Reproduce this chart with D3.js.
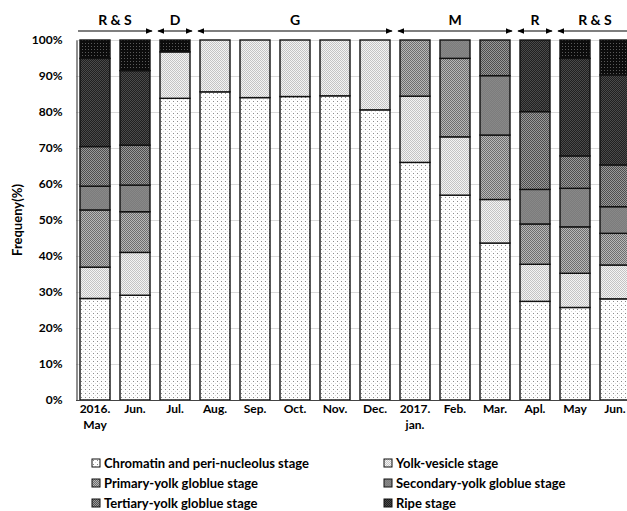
<!DOCTYPE html>
<html>
<head>
<meta charset="utf-8">
<script src="https://cdn.jsdelivr.net/npm/d3@7"></script>
<style>
  body { margin: 0; background: #fff; }
  text { font-family: Lato, "Open Sans", sans-serif; font-weight: bold; fill: #000; }
</style>
</head>
<body>
<div id="chart" style="width:627px;height:511px;"></div>
<script>
// months along the x axis ("|" splits the two-line labels)
var months = ["2016.|May", "Jun.", "Jul.", "Aug.", "Sep.", "Oct.", "Nov.", "Dec.", "2017.|jan.", "Feb.", "Mar.", "Apl.", "May", "Jun."];

// stage shares (%) for each month, bottom to top
var chromatin = [28.2, 29.1, 83.8, 85.6, 84.0, 84.3, 84.5, 80.6, 66.0, 56.9, 43.6, 27.4, 25.7, 28.1];
var yolkVesicle = [8.7, 11.9, 12.9, 14.4, 16.0, 15.7, 15.5, 19.4, 18.4, 16.2, 12.1, 10.3, 9.5, 9.4];
var primary = [15.9, 11.3, 0, 0, 0, 0, 0, 0, 15.6, 21.8, 17.9, 11.2, 12.9, 8.8];
var secondary = [6.6, 7.4, 0, 0, 0, 0, 0, 0, 0, 5.1, 16.5, 9.6, 10.7, 7.4];
var tertiary = [11.0, 11.1, 0, 0, 0, 0, 0, 0, 0, 0, 9.9, 21.6, 9.0, 11.6];
var ripe = [24.5, 20.7, 0, 0, 0, 0, 0, 0, 0, 0, 0, 19.9, 27.1, 25.0];
var spent = [5.1, 8.5, 3.3, 0, 0, 0, 0, 0, 0, 0, 0, 0, 5.1, 9.7];

var yTicks = [0, 10, 20, 30, 40, 50, 60, 70, 80, 90, 100];

// season brackets over the bars: label, first month index, last month index, arrow heads
var periods = [
  {label: "R & S", from: 0, to: 1, left: false, right: true},
  {label: "D", from: 2, to: 2, left: true, right: true},
  {label: "G", from: 3, to: 7, left: true, right: true},
  {label: "M", from: 8, to: 10, left: true, right: true},
  {label: "R", from: 11, to: 11, left: true, right: true},
  {label: "R & S", from: 12, to: 13, left: true, right: false}
];

var keys = ["chromatin", "yolkVesicle", "primary", "secondary", "tertiary", "ripe", "spent"];
var legendNames = ["Chromatin and peri-nucleolus stage", "Yolk-vesicle stage", "Primary-yolk globlue stage",
                   "Secondary-yolk globlue stage", "Tertiary-yolk globlue stage", "Ripe stage"];

var series = {chromatin: chromatin, yolkVesicle: yolkVesicle, primary: primary, secondary: secondary,
              tertiary: tertiary, ripe: ripe, spent: spent};

// month names repeat (May, Jun.), so bars are keyed by index
var data = months.map(function(m, i) {
  var row = {idx: i, month: m};
  keys.forEach(function(k) { row[k] = series[k][i]; });
  return row;
});

var width = 627, height = 511;

var svg = d3.select("#chart").append("svg")
            .attr("width", width)
            .attr("height", height);

// fill patterns, one per stage
var defs = svg.append("defs");

function checker(id, a, b, size) {
  var p = defs.append("pattern").attr("id", id).attr("patternUnits", "userSpaceOnUse")
              .attr("width", size * 2).attr("height", size * 2);
  p.append("rect").attr("width", size * 2).attr("height", size * 2).attr("fill", a);
  p.append("rect").attr("width", size).attr("height", size).attr("fill", b);
  p.append("rect").attr("x", size).attr("y", size).attr("width", size).attr("height", size).attr("fill", b);
}

var pc = defs.append("pattern").attr("id", "p0").attr("patternUnits", "userSpaceOnUse")
             .attr("width", 4).attr("height", 4);
pc.append("rect").attr("width", 4).attr("height", 4).attr("fill", "#fff");
pc.append("rect").attr("x", 1).attr("y", 1).attr("width", 1).attr("height", 1).attr("fill", "#8a8a8a");
pc.append("rect").attr("x", 3).attr("y", 3).attr("width", 1).attr("height", 1).attr("fill", "#d8d8d8");

checker("p1", "#f4f4f4", "#c4c4c4", 1);
checker("p2", "#b8b8b8", "#6e6e6e", 1);
checker("p3", "#7c7c7c", "#888888", 1);
checker("p4", "#999999", "#4e4e4e", 1);
checker("p5", "#202020", "#4a4a4a", 1);

var ps = defs.append("pattern").attr("id", "p6").attr("patternUnits", "userSpaceOnUse")
             .attr("width", 3).attr("height", 3);
ps.append("rect").attr("width", 3).attr("height", 3).attr("fill", "#0c0c0c");
ps.append("rect").attr("x", 1).attr("y", 1).attr("width", 1).attr("height", 1).attr("fill", "#5a5a5a");

var x = d3.scaleBand()
          .domain(d3.range(months.length))
          .range([75, 635])
          .paddingInner(0.25)
          .paddingOuter(0.125);

var y = d3.scaleLinear()
          .domain([0, 100])
          .range([400, 40]);

// gridlines
svg.append("g")
   .selectAll("line")
   .data(yTicks.slice(1))
   .enter().append("line")
   .attr("x1", 76).attr("x2", 635)
   .attr("y1", function(d) { return y(d) + 0.5; })
   .attr("y2", function(d) { return y(d) + 0.5; })
   .attr("stroke", "#d9d9d9")
   .attr("stroke-width", 1);

// stacked bars
var stacked = d3.stack().keys(keys)(data);

svg.append("g")
   .selectAll("g")
   .data(stacked)
   .enter().append("g")
   .attr("fill", function(d, i) { return "url(#p" + i + ")"; })
   .selectAll("rect")
   .data(function(d) { return d.filter(function(s) { return s[1] - s[0] > 0; }); })
   .enter().append("rect")
   .attr("x", function(d) { return x(d.data.idx); })
   .attr("width", x.bandwidth())
   .attr("y", function(d) { return y(d[1]); })
   .attr("height", function(d) { return y(d[0]) - y(d[1]); })
   .attr("stroke", "#111")
   .attr("stroke-width", 1.4);

// y axis
var yAxis = svg.append("g")
   .attr("transform", "translate(76.5,0)")
   .call(d3.axisLeft(y).tickValues(yTicks).tickFormat(function(d) { return d + "%"; })
         .tickSize(0).tickPadding(14));
yAxis.select(".domain").attr("stroke", "#444").attr("stroke-width", 1.2);
yAxis.selectAll("text").style("font-size", "12px").style("font-family", "Lato, sans-serif");

// baseline
svg.append("line")
   .attr("x1", 76).attr("x2", 635)
   .attr("y1", 400.5).attr("y2", 400.5)
   .attr("stroke", "#444").attr("stroke-width", 1.2);

// x labels
var xl = svg.append("g")
   .selectAll("text")
   .data(months)
   .enter().append("text")
   .attr("x", function(d, i) { return x(i) + x.bandwidth() / 2; })
   .attr("y", 413)
   .attr("text-anchor", "middle")
   .style("font-size", "12px");

xl.selectAll("tspan")
  .data(function(d) { return d.split("|"); })
  .enter().append("tspan")
  .attr("x", function() { return d3.select(this.parentNode).attr("x"); })
  .attr("dy", function(d, i) { return i === 0 ? 0 : 16; })
  .text(function(d) { return d; });

// y title
svg.append("text")
   .attr("transform", "translate(22,220) rotate(-90)")
   .attr("text-anchor", "middle")
   .style("font-size", "13px")
   .text("Frequeny(%)");

// season brackets
defs.append("marker")
    .attr("id", "arrow")
    .attr("viewBox", "0 0 10 10")
    .attr("refX", 9).attr("refY", 5)
    .attr("markerWidth", 6).attr("markerHeight", 6)
    .attr("orient", "auto-start-reverse")
    .append("path").attr("d", "M0,1 L10,5 L0,9 Z").attr("fill", "#000");

var per = svg.append("g").selectAll("g")
   .data(periods)
   .enter().append("g");

per.append("line")
   .attr("x1", function(d) { return x(d.from) - 2; })
   .attr("x2", function(d) { return x(d.to) + x.bandwidth() + 2; })
   .attr("y1", 31).attr("y2", 31)
   .attr("stroke", "#000").attr("stroke-width", 1.2)
   .attr("marker-start", function(d) { return d.left ? "url(#arrow)" : null; })
   .attr("marker-end", function(d) { return d.right ? "url(#arrow)" : null; });

per.append("text")
   .attr("x", function(d) { return (x(d.from) + x(d.to) + x.bandwidth()) / 2; })
   .attr("y", 25)
   .attr("text-anchor", "middle")
   .style("font-size", "14px")
   .text(function(d) { return d.label; });

// legend
var legend = svg.append("g").selectAll("g")
   .data(legendNames)
   .enter().append("g")
   .attr("transform", function(d, i) { return "translate(" + (i % 2 === 0 ? 92 : 384) + "," + (463 + Math.floor(i / 2) * 20) + ")"; });

legend.append("rect")
   .attr("x", 0).attr("y", -4)
   .attr("width", 8).attr("height", 8)
   .attr("fill", function(d, i) { return "url(#p" + i + ")"; })
   .attr("stroke", "#111").attr("stroke-width", 1);

legend.append("text")
   .attr("x", 12).attr("y", 4.5)
   .style("font-size", "13px")
   .text(function(d) { return d; });
</script>
</body>
</html>
